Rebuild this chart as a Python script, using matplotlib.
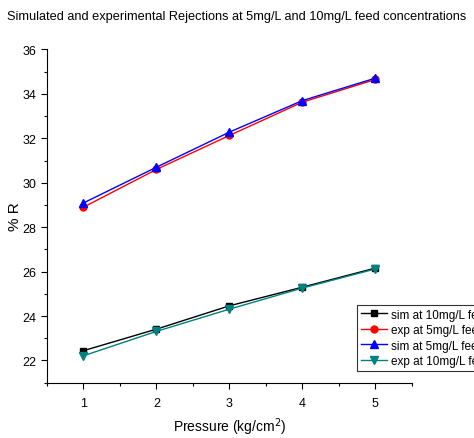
import numpy as np
from matplotlib import pyplot as plt
from matplotlib.ticker import MultipleLocator

plt.rcParams['font.family'] = ['Liberation Sans', 'DejaVu Sans']

pressure = [1, 2, 3, 4, 5]

# rejection values (% R)
sim_10 = [22.44, 23.41, 24.46, 25.30, 26.16]
exp_5 = [28.90, 30.60, 32.13, 33.63, 34.65]
sim_5 = [29.09, 30.70, 32.28, 33.70, 34.71]
exp_10 = [22.21, 23.31, 24.31, 25.26, 26.12]

fig = plt.figure(figsize=(4.74, 4.39), dpi=100)
ax = fig.add_axes([0.099, 0.126, 0.770, 0.759])

ax.plot(pressure, sim_10, '-s', color='black', lw=1, ms=5, label='sim at 10mg/L feed')
ax.plot(pressure, exp_5, '-o', color='red', lw=1, ms=5, label='exp at 5mg/L feed')
ax.plot(pressure, sim_5, '-^', color='blue', lw=1, ms=6, label='sim at 5mg/L feed')
ax.plot(pressure, exp_10, '-v', color='#008080', lw=1, ms=6, label='exp at 10mg/L feed')

ax.set_xlim(0.5, 5.5)
ax.set_ylim(21, 36)
ax.xaxis.set_major_locator(MultipleLocator(1))
ax.xaxis.set_minor_locator(MultipleLocator(0.5))
ax.yaxis.set_major_locator(MultipleLocator(2))
ax.yaxis.set_minor_locator(MultipleLocator(1))
ax.tick_params(which='major', direction='out', length=4, width=0.8, labelsize=9)
ax.tick_params(which='minor', direction='out', length=2.5, width=0.8)
ax.tick_params(axis='x', pad=6)
ax.spines['top'].set_visible(False)
ax.spines['right'].set_visible(False)

ax.set_xlabel('Pressure (kg/cm$^2$)', fontsize=10, labelpad=5)
ax.set_ylabel('% R', fontsize=11)
ax.yaxis.set_label_coords(-0.068, 0.5)
fig.suptitle('Simulated and experimental Rejections at 5mg/L and 10mg/L feed concentrations',
             x=0.015, y=0.975, ha='left', fontsize=9.2)

leg = ax.legend(loc='upper left', bbox_to_anchor=(357 / 474, 1 - 306 / 439),
                bbox_transform=fig.transFigure, fontsize=8.5, frameon=True,
                fancybox=False, edgecolor='black', borderpad=0.3,
                labelspacing=0.3, handlelength=2.2, handletextpad=0.4,
                borderaxespad=0)
leg.get_frame().set_linewidth(0.8)

fig.savefig('out.png', dpi=100)
